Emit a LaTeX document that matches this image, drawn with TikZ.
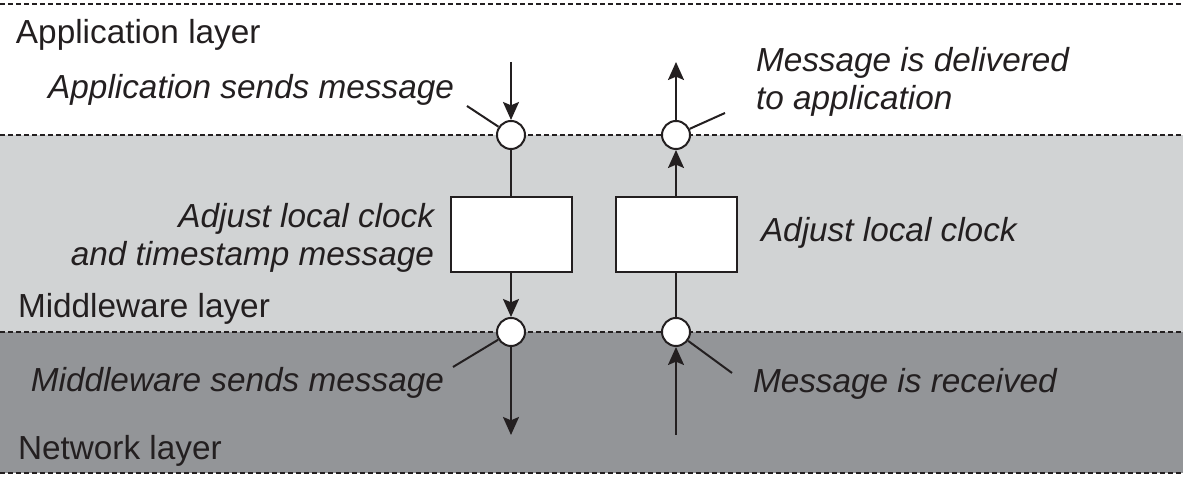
\documentclass[tikz,border=0pt]{standalone}
\usepackage{fontspec}
\setmainfont{Liberation Sans}
\usetikzlibrary{positioning,arrows.meta}
\definecolor{ink}{HTML}{231F20}
\definecolor{midgray}{HTML}{D1D3D4}
\definecolor{netgray}{HTML}{939598}

\begin{document}
\begin{tikzpicture}[x=0.3pt, y=-0.3pt, color=ink, line width=0.6pt,
        every node/.style={font=\fontsize{10}{11.4}\selectfont},
        point/.style={circle, draw, fill=white, minimum size=8.4pt, inner sep=0pt},
        proc/.style={rectangle, draw, fill=white, minimum width=36.3pt, minimum height=22.5pt, inner sep=0pt},
        note/.style={font=\itshape\fontsize{10}{11.4}\selectfont, inner sep=0pt},
        layer/.style={inner sep=0pt, anchor=base west},
        flow/.style={-{Stealth[length=5.4pt, width=4.8pt, inset=1pt]}},
        sep/.style={dash pattern=on 1.5pt off 0.9pt, line width=0.4pt}]
            \useasboundingbox (0,0) rectangle (1183,479);

            % layers
            \fill[midgray] (0,135) rectangle (1183,332);
            \fill[netgray] (0,332) rectangle (1183,473);
            \foreach \y in {4,135,332,473}
                \draw[sep] (0,\y) -- (1183,\y);

            \node (L1) [layer] at (15,44) {Application layer};
            \node (L2) [layer] at (17,318) {Middleware layer};
            \node (L3) [layer] at (17,460) {Network layer};

            % sender and receiver
            \node (S) [point] at (511,135) {};
            \node (D) [point] at (676,135) {};
            \node (MS) [point] at (511,332) {};
            \node (R) [point] at (676,332) {};
            \node (B1) [proc] at (511,234.5) {};
            \node (B2) [proc] at (676,234.5) {};

            \coordinate (in) at (511,62);
            \coordinate (out) at (676,62);
            \coordinate (down) at (511,435);
            \coordinate (up) at (676,435);

            \draw[flow] (in) -- (S);
            \draw (S) -- (B1);
            \draw[flow] (B1) -- (MS);
            \draw[flow] (MS) -- (down);
            \draw[flow] (up) -- (R);
            \draw (R) -- (B2);
            \draw[flow] (B2) -- (D);
            \draw[flow] (D) -- (out);

            % notes (base = last line)
            \node (n1) [note, anchor=base east] at (455,99) {Application sends message};
            \node (n2) [note, anchor=base west, align=left] at (755,110) {Message is delivered\\to application};
            \node (n3) [note, anchor=base east, align=right] at (435,266) {Adjust local clock\\and timestamp message};
            \node (n4) [note, anchor=base west] at (760,242) {Adjust local clock};
            \node (n5) [note, anchor=base east] at (445,392) {Middleware sends message};
            \node (n6) [note, anchor=base west] at (752,393) {Message is received};

            \coordinate (p1) at (467,106);
            \coordinate (p2) at (725,113);
            \coordinate (p3) at (453,367);
            \coordinate (p4) at (732,373);
            \draw (p1) -- (S);
            \draw (D) -- (p2);
            \draw (MS) -- (p3);
            \draw (R) -- (p4);
\end{tikzpicture}
\end{document}
